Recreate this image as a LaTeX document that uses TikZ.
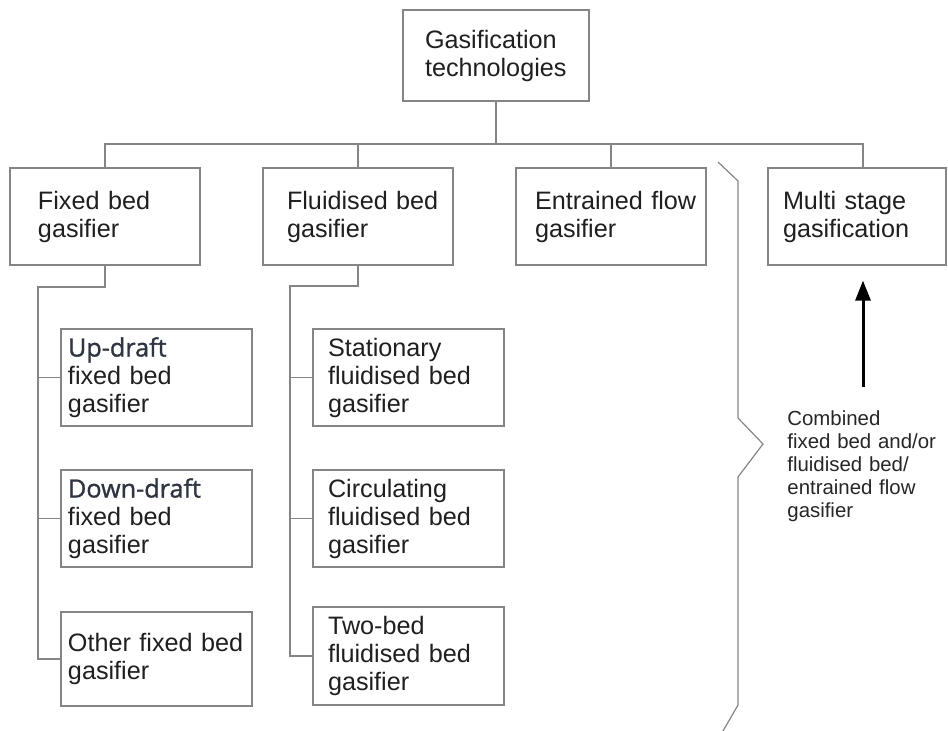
\documentclass[tikz,border=0pt]{standalone}
\usepackage{fontspec}
\setmainfont{Liberation Sans}
\newfontfamily\editfont[FakeBold=1.2]{Open Sans}
\usetikzlibrary{arrows.meta}
\definecolor{linegray}{HTML}{858585}
\definecolor{editink}{HTML}{2E3440}
\newcommand{\boxfont}{\fontsize{12.6}{14}\selectfont}
\newcommand{\notefont}{\fontsize{10.2}{11.5}\selectfont}
\newcommand{\Edited}[1]{{\editfont\color{editink}#1}}
\tikzset{
	box/.style={draw=linegray, line width=0.6pt, inner xsep=0pt, text width=#1, minimum height=48.5pt, align=left, font=\boxfont, text=black!88},
	pad/.style={execute at begin node={\leftskip=#1\relax}},
	conn/.style={draw=linegray, line width=0.6pt},
	arrow/.style={line width=1.5pt, -{Triangle[width=7.5pt,length=10pt]}}
}

\begin{document}
\begin{tikzpicture}[x=0.5pt, y=-0.5pt]
	\useasboundingbox (0,0) rectangle (948,731);
	\node[box=93pt, pad=11pt, minimum height=45.5pt] (gas) at (496,55.5) {Gasification\\technologies};
	\node[box=95pt, pad=14pt] (fixed) at (105,216.5) {Fixed bed\\gasifier};
	\node[box=95pt, pad=12pt] (fluid) at (358,216.5) {Fluidised bed\\gasifier};
	\node[box=95pt, pad=9.5pt] (entr) at (611,216.5) {Entrained flow\\gasifier};
	\node[box=89pt, pad=7.5pt] (multi) at (857,216.5) {Multi stage\\gasification};
	\node[box=95.5pt, pad=3.5pt] (updraft) at (156.5,377.5) {\Edited{Up-draft}\\fixed bed\\gasifier};
	\node[box=95.5pt, pad=3.5pt] (downdraft) at (156.5,518.5) {\Edited{Down-draft}\\fixed bed\\gasifier};
	\node[box=95.5pt, pad=3.5pt, minimum height=47pt] (otherfb) at (156.5,659) {Other fixed bed\\gasifier};
	\node[box=95.5pt, pad=7.5pt] (stat) at (408.5,377.5) {Stationary\\fluidised bed\\gasifier};
	\node[box=95.5pt, pad=7.5pt] (circ) at (408.5,518.5) {Circulating\\fluidised bed\\gasifier};
	\node[box=95.5pt, pad=7.5pt, minimum height=49pt] (twobed) at (408.5,656) {Two-bed\\fluidised bed\\gasifier};
	\node[anchor=north west, inner sep=0pt, text width=80pt, align=left, font=\notefont, text=black!85] (note) at (787,410) {Combined\\fixed bed and/or\\fluidised bed/\\entrained flow\\gasifier};

	\coordinate (bus) at (0,144);
	\draw[conn] (gas.south) -- (gas.south |- bus);
	\draw[conn] (fixed.north) -- (fixed.north |- bus) -| ([xshift=3pt]multi.north);
	\draw[conn] (fluid.north) -- (fluid.north |- bus);
	\draw[conn] (entr.north) -- (entr.north |- bus);

	\coordinate (ftrunk) at (38,287);
	\draw[conn] (fixed.south) |- (ftrunk) |- (otherfb.west);
	\foreach \n in {updraft,downdraft} \draw[conn] (\n.west) -- (\n.west -| ftrunk);
	\coordinate (ltrunk) at (290,286);
	\draw[conn] (fluid.south) |- (ltrunk) |- (twobed.west);
	\foreach \n in {stat,circ} \draw[conn] (\n.west) -- (\n.west -| ltrunk);

	\draw[conn] (718,162) -- (738,181) -- (738,418) -- (763,444) -- (738,477) -- (738,705) -- (723,731);

	\coordinate (tip) at ([xshift=3pt,yshift=-7.5pt]multi.south);
	\draw[arrow] ([yshift=11.5pt]note.north west -| tip) -- (tip);
	%\draw [red] (current bounding box.south west) rectangle (current bounding box.north east);
\end{tikzpicture}
\end{document}
